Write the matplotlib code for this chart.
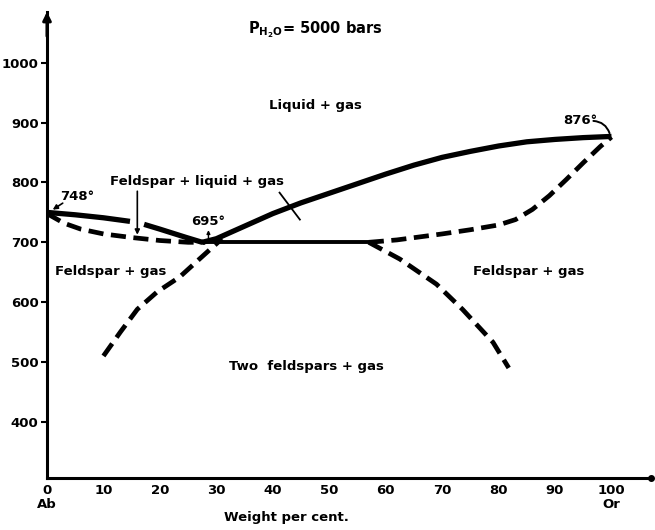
import matplotlib
matplotlib.use("Agg")
import matplotlib.pyplot as plt

# ---- data ----
liq_left_a_x = [0, 5, 10, 14.7]
liq_left_a_y = [750, 746, 741, 735]
liq_left_b_x = [17.2, 20, 24.7, 27.5]
liq_left_b_y = [730, 722, 708, 700]

liq_right_x = [27.5, 30, 35, 40, 45, 50, 55, 60, 65, 70, 75, 80, 85, 90, 95, 100]
liq_right_y = [700, 706, 727, 748, 766, 782, 798, 814, 829, 842, 852, 861, 868, 872, 875, 877]

eutectic_x = [28, 57]
eutectic_y = [700, 700]

sol_left_x = [0, 3, 6, 10, 15, 20, 25, 28]
sol_left_y = [748, 732, 722, 714, 708, 703, 700, 700]

sol_right_x = [57, 62, 66, 70, 75, 80, 83, 86, 89, 92, 95, 98, 100]
sol_right_y = [700, 704, 709, 714, 721, 729, 738, 755, 778, 805, 833, 860, 876]

solvus_left_x = [10, 13, 16, 19.5, 23.5, 27, 31]
solvus_left_y = [510, 550, 588, 617, 642, 672, 706]

solvus_right_x = [57, 62.5, 69, 73.6, 79, 81.8]
solvus_right_y = [700, 672, 630, 588, 533, 490]

x_ticks = [0, 10, 20, 30, 40, 50, 60, 70, 80, 90, 100]
y_ticks = [400, 500, 600, 700, 800, 900, 1000]

FONT = dict(fontfamily="DejaVu Sans", fontweight="bold", fontsize=9.5)

fig = plt.figure(figsize=(6.55, 5.3), dpi=100)
ax = fig.add_axes([47 / 655, 52 / 530, (651 - 47) / 655, (478 - 12) / 530])
ax.set_xlim(0, 107)
ax.set_ylim(306, 1085)

for s in ("top", "right"):
    ax.spines[s].set_visible(False)
for s in ("left", "bottom"):
    ax.spines[s].set_linewidth(2.2)

ax.set_xticks(x_ticks)
ax.set_yticks(y_ticks)
ax.set_xticklabels([str(v) for v in x_ticks], **FONT)
ax.set_yticklabels([str(v) for v in y_ticks], **FONT)
ax.tick_params(axis="x", length=0, pad=4)
ax.tick_params(axis="y", length=4, width=1.5, pad=2)

# axis arrow and end dot
ax.annotate("", xy=(0, 1090), xytext=(0, 1040), xycoords="data",
            arrowprops=dict(arrowstyle="-|>", color="black", lw=2.2,
                            mutation_scale=12), annotation_clip=False)
ax.plot([107], [306], "o", color="black", ms=4, clip_on=False)

solid = dict(color="black", lw=3.8, solid_capstyle="butt")
dash = dict(color="black", lw=3.4, linestyle=(0, (3.2, 1.6)), dash_capstyle="butt")

ax.plot(liq_left_a_x, liq_left_a_y, **solid)
ax.plot(liq_left_b_x, liq_left_b_y, **solid)
ax.plot(liq_right_x, liq_right_y, **solid)
ax.plot(eutectic_x, eutectic_y, color="black", lw=2.8)
ax.plot(sol_left_x, sol_left_y, **dash)
ax.plot(sol_right_x, sol_right_y, **dash)
ax.plot(solvus_left_x, solvus_left_y, **dash)
ax.plot(solvus_right_x, solvus_right_y, **dash)

# labels
ax.text(47.5, 1055, r"$\mathregular{P_{H_2O}}$= 5000 bars", ha="center", va="center",
        fontfamily="DejaVu Sans", fontweight="bold", fontsize=10.5)
ax.text(47.5, 928, "Liquid + gas", ha="center", va="center", **FONT)
ax.text(26.5, 802, "Feldspar + liquid + gas", ha="center", va="center", **FONT)
ax.text(11.2, 652, "Feldspar + gas", ha="center", va="center", **FONT)
ax.text(85.3, 652, "Feldspar + gas", ha="center", va="center", **FONT)
ax.text(46, 492, "Two  feldspars + gas", ha="center", va="center", **FONT)
ax.text(5.3, 776, "748°", ha="center", va="center", **FONT)
ax.text(28.5, 734, "695°", ha="center", va="center", **FONT)
ax.text(94.5, 904, "876°", ha="center", va="center", **FONT)

ax.text(0, 261, "Ab", ha="center", va="center", **FONT)
ax.text(100, 261, "Or", ha="center", va="center", **FONT)
ax.text(42.5, 240, "Weight per cent.", ha="center", va="center", **FONT)

# pointers
ax.annotate("", xy=(0.6, 752), xytext=(3.2, 768),
            arrowprops=dict(arrowstyle="-|>", color="black", lw=1.2, mutation_scale=7))
ax.annotate("", xy=(16, 708), xytext=(16, 790),
            arrowprops=dict(arrowstyle="-|>", color="black", lw=1.2, mutation_scale=7))
ax.plot([41.2, 44.8], [783, 738], color="black", lw=1.3)
ax.annotate("", xy=(28.6, 725), xytext=(28.6, 702),
            arrowprops=dict(arrowstyle="-|>", color="black", lw=1.0, mutation_scale=5))
ax.annotate("", xy=(99.8, 878), xytext=(96.3, 903),
            arrowprops=dict(arrowstyle="-", color="black", lw=1.4,
                            connectionstyle="arc3,rad=-0.4"))

for t in ax.texts:
    t.set_clip_on(False)

fig.savefig("out.png", dpi=100)
